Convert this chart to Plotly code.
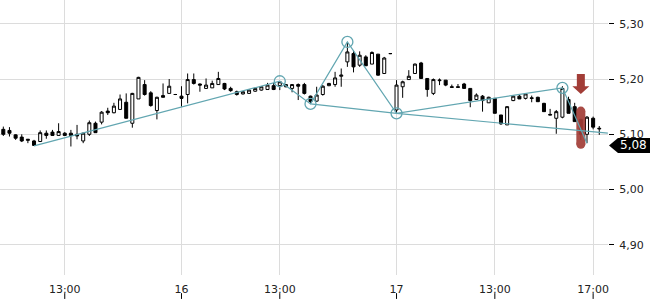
import plotly.graph_objects as go

# ---- data (15-minute candles, three sessions) ----
opens = [5.109, 5.107, 5.099, 5.095, 5.089, 5.088, 5.087, 5.102, 5.104, 5.098,
         5.102, 5.102, 5.100, 5.088, 5.100, 5.120, 5.122, 5.142, 5.139, 5.145,
         5.158, 5.120, 5.164, 5.190, 5.175, 5.143, 5.170, 5.174, 5.172, 5.169,
         5.172, 5.199, 5.191, 5.183, 5.184, 5.190, 5.192, 5.183, 5.177, 5.173,
         5.174, 5.178, 5.180, 5.181, 5.188, 5.188, 5.186, 5.183, 5.190, 5.190,
         5.169, 5.160, 5.172, 5.188, 5.190, 5.205, 5.231, 5.246, 5.225, 5.240,
         5.227, 5.245, 5.210, 5.246, 5.144, 5.186, 5.199, 5.210, 5.229, 5.201,
         5.174, 5.197, 5.198, 5.186, 5.186, 5.191, 5.183, 5.163, 5.169, 5.157,
         5.165, 5.135, 5.117, 5.161, 5.169, 5.165, 5.166, 5.167, 5.156, 5.136,
         5.129, 5.131, 5.163, 5.150, 5.127, 5.100, 5.129, 5.111]
highs = [5.114, 5.113, 5.100, 5.100, 5.091, 5.090, 5.107, 5.107, 5.108, 5.120,
         5.104, 5.108, 5.117, 5.103, 5.125, 5.123, 5.142, 5.148, 5.157, 5.172,
         5.174, 5.175, 5.204, 5.198, 5.178, 5.168, 5.192, 5.200, 5.173, 5.187,
         5.210, 5.210, 5.192, 5.201, 5.197, 5.213, 5.193, 5.186, 5.179, 5.178,
         5.181, 5.184, 5.187, 5.193, 5.193, 5.196, 5.191, 5.191, 5.192, 5.193,
         5.170, 5.186, 5.189, 5.193, 5.213, 5.219, 5.267, 5.252, 5.250, 5.243,
         5.250, 5.245, 5.240, 5.247, 5.198, 5.197, 5.216, 5.228, 5.231, 5.201,
         5.201, 5.201, 5.198, 5.190, 5.191, 5.193, 5.183, 5.174, 5.171, 5.168,
         5.165, 5.135, 5.151, 5.171, 5.171, 5.174, 5.170, 5.168, 5.157, 5.146,
         5.144, 5.187, 5.168, 5.157, 5.128, 5.133, 5.132, 5.115]
lows = [5.097, 5.096, 5.090, 5.086, 5.084, 5.079, 5.086, 5.092, 5.097, 5.098,
        5.097, 5.078, 5.091, 5.084, 5.097, 5.103, 5.118, 5.135, 5.138, 5.145,
        5.129, 5.112, 5.164, 5.170, 5.150, 5.127, 5.167, 5.174, 5.171, 5.150,
        5.156, 5.190, 5.177, 5.182, 5.184, 5.190, 5.180, 5.177, 5.170, 5.172,
        5.173, 5.177, 5.179, 5.181, 5.180, 5.180, 5.185, 5.176, 5.162, 5.172,
        5.155, 5.159, 5.170, 5.187, 5.186, 5.186, 5.222, 5.212, 5.222, 5.224,
        5.227, 5.206, 5.209, 5.245, 5.138, 5.166, 5.199, 5.210, 5.201, 5.168,
        5.171, 5.189, 5.187, 5.185, 5.185, 5.183, 5.149, 5.162, 5.141, 5.157,
        5.138, 5.117, 5.117, 5.160, 5.164, 5.163, 5.158, 5.159, 5.141, 5.135,
        5.101, 5.129, 5.138, 5.123, 5.090, 5.084, 5.109, 5.099]
closes = [5.100, 5.102, 5.093, 5.088, 5.091, 5.080, 5.103, 5.098, 5.098, 5.105,
          5.098, 5.098, 5.097, 5.102, 5.121, 5.103, 5.140, 5.139, 5.151, 5.164,
          5.129, 5.174, 5.203, 5.172, 5.152, 5.167, 5.167, 5.187, 5.172, 5.165,
          5.199, 5.192, 5.189, 5.189, 5.192, 5.201, 5.182, 5.179, 5.172, 5.177,
          5.180, 5.183, 5.186, 5.189, 5.181, 5.195, 5.190, 5.190, 5.187, 5.174,
          5.159, 5.171, 5.187, 5.192, 5.202, 5.207, 5.249, 5.222, 5.243, 5.224,
          5.248, 5.207, 5.238, 5.246, 5.189, 5.195, 5.205, 5.227, 5.201, 5.181,
          5.199, 5.198, 5.189, 5.185, 5.185, 5.183, 5.161, 5.171, 5.161, 5.167,
          5.138, 5.119, 5.150, 5.169, 5.164, 5.173, 5.165, 5.159, 5.141, 5.135,
          5.141, 5.183, 5.138, 5.123, 5.100, 5.131, 5.113, 5.110]

# x-axis tick positions (candle index) and labels
tick_pos = [10, 29, 45, 64, 80, 96]
tick_labels = ["13:00", "16", "13:00", "17", "13:00", "17:00"]

# pattern (zig-zag) pivot points: candle index / price
pattern_x = [5, 45, 50, 56, 64, 91, 95]
pattern_y = [5.079, 5.196, 5.155, 5.267, 5.138, 5.184, 5.084]
circle_x = [45, 50, 56, 64, 91]
circle_y = [5.196, 5.155, 5.267, 5.138, 5.184]
neck_x = [50, 64, 98.4]
neck_y = [5.155, 5.138, 5.102]

# sell signal
signal_x = [94]
signal_arrow_tip = [5.173]
signal_bar = [5.142, 5.082]

last_price = 5.08
last_label = "5,08"

teal = "#62a6b1"
red = "#a23d37"
idx = list(range(len(opens)))

fig = go.Figure()

# red highlight bar (beneath candles)
fig.add_trace(go.Scatter(
    x=signal_x * 2, y=signal_bar, mode="lines+markers",
    line=dict(color=red, width=9), marker=dict(color=red, size=9, symbol="circle"),
    opacity=0.92, hoverinfo="skip", showlegend=False))

fig.add_trace(go.Candlestick(
    x=idx, open=opens, high=highs, low=lows, close=closes,
    increasing=dict(line=dict(color="black", width=1), fillcolor="white"),
    decreasing=dict(line=dict(color="black", width=1), fillcolor="black"),
    showlegend=False))

fig.add_trace(go.Scatter(x=pattern_x, y=pattern_y, mode="lines",
                         line=dict(color=teal, width=1.2), showlegend=False, hoverinfo="skip"))
fig.add_trace(go.Scatter(x=neck_x, y=neck_y, mode="lines",
                         line=dict(color=teal, width=1.2), showlegend=False, hoverinfo="skip"))
fig.add_trace(go.Scatter(x=circle_x, y=circle_y, mode="markers",
                         marker=dict(symbol="circle-open", size=11, color=teal, line=dict(width=1.3)),
                         showlegend=False, hoverinfo="skip"))

# signal arrow (pixel-sized shape anchored at data point)
fig.add_shape(type="path", xref="x", yref="y", xsizemode="pixel", ysizemode="pixel",
              xanchor=signal_x[0], yanchor=signal_arrow_tip[0],
              path="M 0,0 L -8.5,7.6 L -4,7.6 L -4,20 L 4,20 L 4,7.6 L 8.5,7.6 Z",
              fillcolor=red, line=dict(width=0), layer="above")

# x tick marks below the labels
for p in tick_pos:
    fig.add_shape(type="line", xref="x", yref="paper", x0=p, x1=p, y0=-0.066, y1=-0.087,
                  line=dict(color="black", width=1))

# last price tag
fig.add_shape(type="path", xref="paper", yref="y", xsizemode="pixel", ysizemode="pixel",
              xanchor=1, yanchor=last_price,
              path="M 1,0 L 10,7.5 L 44,7.5 L 44,-7.5 L 10,-7.5 Z",
              fillcolor="black", line=dict(width=0), layer="above")
fig.add_annotation(x=1, xref="paper", y=last_price, yref="y", text=last_label,
                   showarrow=False, xanchor="left", xshift=10,
                   font=dict(color="white", size=12, family="DejaVu Sans"))

fig.update_layout(
    width=650, height=300, margin=dict(l=0, r=42, t=0, b=25),
    paper_bgcolor="white", plot_bgcolor="white", separators=",.",
    font=dict(family="DejaVu Sans", size=11, color="#222"),
    xaxis=dict(range=[-0.54, 98.42], tickvals=tick_pos, ticktext=tick_labels,
               showgrid=True, gridcolor="#dcdcdc", gridwidth=1, zeroline=False,
               ticks="", ticklabelstandoff=6, rangeslider=dict(visible=False),
               showline=False, fixedrange=True),
    yaxis=dict(range=[4.8456, 5.3429], side="right", tickvals=[4.9, 5.0, 5.1, 5.2, 5.3],
               tickformat=".2f", showgrid=True, gridcolor="#dcdcdc", gridwidth=1,
               zeroline=False, ticks="outside", ticklen=5, tickcolor="black",
               ticklabelstandoff=3, showline=False),
)

fig.write_html("out.html")
